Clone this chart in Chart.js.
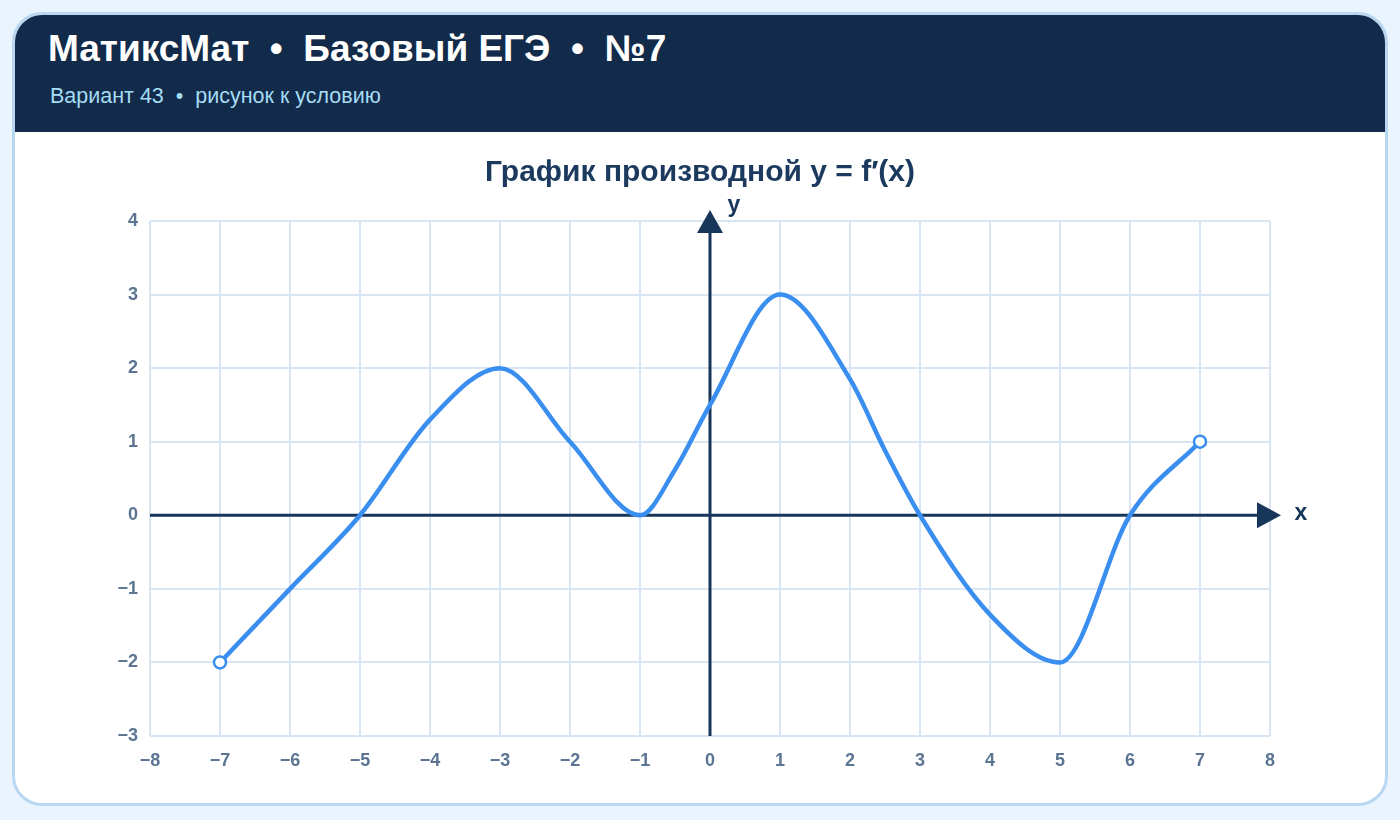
<!DOCTYPE html>
<html lang="ru">
<head>
<meta charset="utf-8">
<title>МатиксМат • Базовый ЕГЭ • №7</title>
<script src="https://cdn.jsdelivr.net/npm/chart.js@4.4.1/dist/chart.umd.min.js"></script>
<style>
    html, body { margin: 0; padding: 0; }
    body {
        width: 1400px; height: 820px; overflow: hidden;
        background: #eaf4ff;
        font-family: "Liberation Sans", Arial, sans-serif;
    }
    .card {
        position: absolute; left: 12px; top: 12px;
        width: 1370px; height: 788px;
        background: #fff;
        border: 3px solid #b9d7f1;
        border-radius: 30px;
        overflow: hidden;
    }
    .header {
        position: absolute; left: 0; top: 0; right: 0; height: 117px;
        background: #122b4b;
    }
    .header h1 {
        position: absolute; left: 33px; top: 13px; margin: 0;
        color: #fff; font-size: 37px; font-weight: bold; white-space: nowrap;
    }
    .header .sub {
        position: absolute; left: 35px; top: 69px;
        color: #a6dcf4; font-size: 21.5px; white-space: nowrap;
    }
    #chartBox { position: absolute; left: -1px; top: 119px; width: 1372px; height: 670px; }
</style>
</head>
<body>
<div class="card">
    <div class="header">
        <h1>МатиксМат&nbsp; •&nbsp; Базовый ЕГЭ&nbsp; •&nbsp; №7</h1>
        <div class="sub">Вариант 43&nbsp; •&nbsp; рисунок к условию</div>
    </div>
    <div id="chartBox"><canvas id="derivChart"></canvas></div>
</div>
<script>
// точки графика производной
const xs = [-7, -6, -5, -4, -3, -2, -1, -0.5, 0, 1, 2, 2.5, 3, 4, 5, 6, 7];
const ys = [-2, -1, 0, 1.3, 2, 1, 0, 0.62, 1.5, 3, 1.85, 0.88, 0, -1.35, -2, 0, 1];
const openX = [-7, 7];
const openY = [-2, 1];
const xMin = -8, xMax = 8;
const yMin = -3, yMax = 4;
const chartTitle = 'График производной y = f\u2032(x)';

const navy = '#17365a';
const blue = '#3a8ef0';
const tickColor = '#5b7593';
const fontFam = '"Liberation Sans", Arial, sans-serif';

const curve = xs.map((x, i) => ({ x: x, y: ys[i] }));
const ends = openX.map((x, i) => ({ x: x, y: openY[i] }));

const minus = v => String(v).replace('-', '\u2212');

// оси со стрелками, подписи x, y и заголовок
const axesPlugin = {
    id: 'axesArrows',
    beforeDatasetsDraw(chart) {
        const { ctx, chartArea, scales } = chart;
        const x0 = scales.x.getPixelForValue(0);
        const y0 = scales.y.getPixelForValue(0);
        ctx.save();
        ctx.strokeStyle = navy;
        ctx.fillStyle = navy;
        ctx.lineWidth = 3;
        ctx.beginPath();
        ctx.moveTo(chartArea.left, y0);
        ctx.lineTo(chartArea.right + 2, y0);
        ctx.moveTo(x0, chartArea.bottom);
        ctx.lineTo(x0, chartArea.top - 2);
        ctx.stroke();
        // стрелка x
        ctx.beginPath();
        ctx.moveTo(chartArea.right + 11, y0);
        ctx.lineTo(chartArea.right - 13, y0 - 13);
        ctx.lineTo(chartArea.right - 13, y0 + 13);
        ctx.closePath();
        ctx.fill();
        // стрелка y
        ctx.beginPath();
        ctx.moveTo(x0, chartArea.top - 11);
        ctx.lineTo(x0 - 13, chartArea.top + 12);
        ctx.lineTo(x0 + 13, chartArea.top + 12);
        ctx.closePath();
        ctx.fill();
        ctx.font = 'bold 23px ' + fontFam;
        ctx.textAlign = 'center';
        ctx.textBaseline = 'middle';
        ctx.fillText('x', chartArea.right + 31, y0 - 2);
        ctx.fillText('y', x0 + 24, chartArea.top - 15);
        // заголовок по центру окна
        ctx.fillStyle = '#1b3a5e';
        ctx.font = 'bold 30px ' + fontFam;
        ctx.fillText(chartTitle, chart.width / 2, 39);
        ctx.restore();
    }
};

new Chart(document.getElementById('derivChart'), {
    type: 'scatter',
    data: {
        datasets: [
            {
                data: ends,
                pointRadius: 6,
                pointHoverRadius: 6,
                pointBackgroundColor: '#fff',
                pointBorderColor: blue,
                pointBorderWidth: 2.5,
                showLine: false,
                order: 0
            },
            {
                data: curve,
                showLine: true,
                borderColor: blue,
                borderWidth: 4.5,
                pointRadius: 0,
                cubicInterpolationMode: 'monotone',
                fill: false,
                order: 1
            }
        ]
    },
    options: {
        responsive: true,
        maintainAspectRatio: false,
        animation: false,
        layout: { padding: { left: 86, right: 116, top: 87, bottom: 28 } },
        plugins: {
            legend: { display: false },
            tooltip: { enabled: false },
            title: { display: false }
        },
        scales: {
            x: {
                type: 'linear', min: xMin, max: xMax,
                afterFit: s => { s.height = 40; },
                grid: { color: '#d8e6f3', lineWidth: 2, drawTicks: false },
                border: { display: false },
                ticks: {
                    stepSize: 1, padding: 14, color: tickColor,
                    font: { family: fontFam, size: 18, weight: 'bold' },
                    callback: v => minus(v)
                }
            },
            y: {
                type: 'linear', min: yMin, max: yMax,
                afterFit: s => { s.width = 50; },
                grid: { color: '#d8e6f3', lineWidth: 2, drawTicks: false },
                border: { display: false },
                ticks: {
                    stepSize: 1, padding: 12, color: tickColor,
                    font: { family: fontFam, size: 18, weight: 'bold' },
                    callback: v => minus(v)
                }
            }
        }
    },
    plugins: [axesPlugin]
});
</script>
</body>
</html>
